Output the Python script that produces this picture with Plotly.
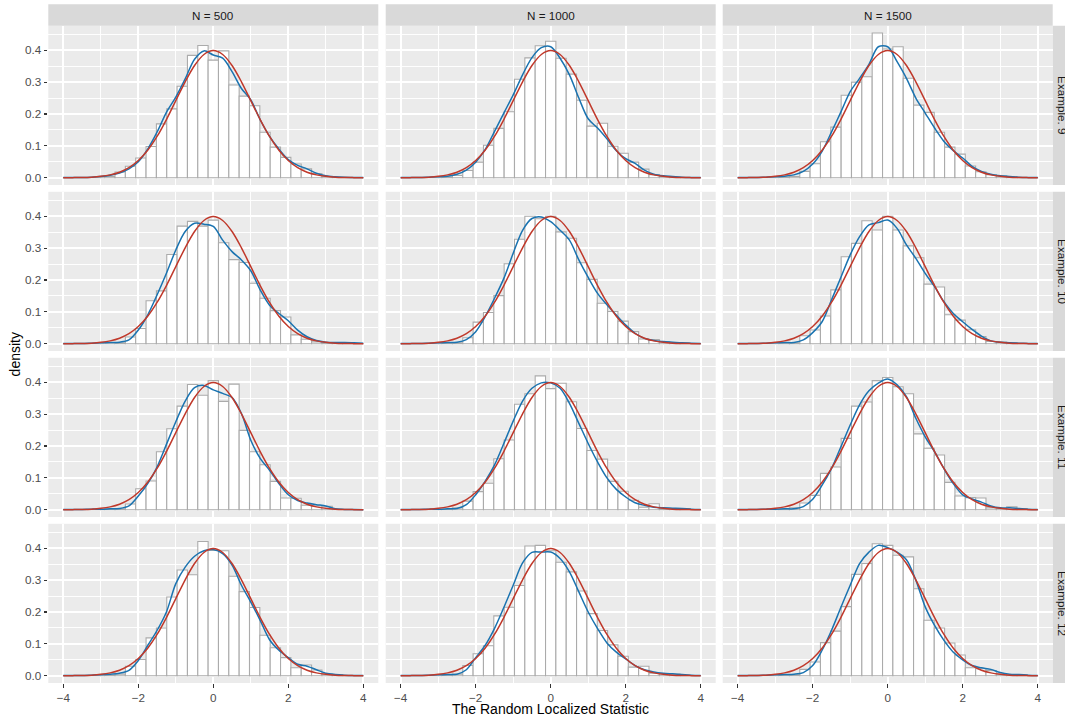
import plotly.graph_objects as go

# ---------------- data ----------------
sample_sizes = ["N = 500", "N = 1000", "N = 1500"]
examples = ["Example. 9", "Example. 10", "Example. 11", "Example. 12"]

bin_width = 8 / 29
bin_index = list(range(-14, 15))  # bins centred on k * bin_width

x_ticks = [-4, -2, 0, 2, 4]
x_tick_labels = ["\u22124", "\u22122", "0", "2", "4"]
y_ticks = [0.0, 0.1, 0.2, 0.3, 0.4]
y_tick_labels = ["0.0", "0.1", "0.2", "0.3", "0.4"]

# histogram densities (k = -14 .. 14)
h_ex9_n500 = [0, 0, 0, 0, 0.004, 0.018, 0.036, 0.062, 0.098, 0.169, 0.216, 0.287, 0.384, 0.415, 0.369, 0.398, 0.291, 0.256, 0.226, 0.143, 0.096, 0.064, 0.043, 0.028, 0.013, 0.004, 0, 0, 0]
h_ex9_n1000 = [0, 0, 0, 0, 0.002, 0.007, 0.023, 0.049, 0.102, 0.155, 0.207, 0.309, 0.376, 0.414, 0.428, 0.375, 0.325, 0.243, 0.162, 0.171, 0.099, 0.077, 0.049, 0.027, 0.010, 0.004, 0.001, 0, 0]
h_ex9_n1500 = [0, 0, 0, 0, 0.002, 0.004, 0.020, 0.044, 0.113, 0.159, 0.259, 0.300, 0.317, 0.454, 0.404, 0.411, 0.312, 0.228, 0.205, 0.143, 0.096, 0.074, 0.037, 0.019, 0.010, 0.006, 0.003, 0, 0]
h_ex10_n500 = [0, 0, 0, 0, 0, 0.003, 0.021, 0.048, 0.135, 0.166, 0.280, 0.369, 0.384, 0.369, 0.388, 0.317, 0.264, 0.255, 0.190, 0.143, 0.104, 0.084, 0.028, 0.014, 0.006, 0.003, 0.003, 0.003, 0]
h_ex10_n1000 = [0, 0, 0, 0, 0.001, 0.003, 0.019, 0.068, 0.098, 0.151, 0.251, 0.328, 0.400, 0.392, 0.400, 0.351, 0.331, 0.254, 0.202, 0.127, 0.101, 0.071, 0.038, 0.015, 0.013, 0.006, 0.002, 0.001, 0]
h_ex10_n1500 = [0, 0, 0, 0, 0.001, 0.003, 0.025, 0.043, 0.087, 0.169, 0.273, 0.315, 0.386, 0.357, 0.400, 0.357, 0.307, 0.270, 0.187, 0.178, 0.091, 0.074, 0.044, 0.023, 0.007, 0.005, 0.002, 0, 0]
h_ex11_n500 = [0, 0, 0, 0, 0.002, 0.002, 0.018, 0.066, 0.090, 0.182, 0.254, 0.325, 0.393, 0.359, 0.405, 0.340, 0.394, 0.249, 0.182, 0.141, 0.089, 0.037, 0.036, 0.014, 0.012, 0.011, 0, 0, 0]
h_ex11_n1000 = [0, 0, 0, 0, 0.001, 0.006, 0.027, 0.057, 0.083, 0.160, 0.219, 0.331, 0.364, 0.420, 0.380, 0.397, 0.339, 0.255, 0.186, 0.159, 0.089, 0.058, 0.030, 0.008, 0.019, 0.003, 0.004, 0.004, 0]
h_ex11_n1500 = [0, 0, 0, 0, 0.001, 0.006, 0.021, 0.045, 0.114, 0.134, 0.224, 0.325, 0.338, 0.405, 0.415, 0.386, 0.364, 0.238, 0.193, 0.172, 0.086, 0.043, 0.038, 0.037, 0.006, 0.004, 0.009, 0.003, 0]
h_ex12_n500 = [0, 0, 0, 0, 0.002, 0.005, 0.030, 0.051, 0.119, 0.150, 0.247, 0.332, 0.317, 0.421, 0.393, 0.392, 0.312, 0.264, 0.214, 0.127, 0.088, 0.057, 0.025, 0.034, 0.018, 0.005, 0.004, 0, 0]
h_ex12_n1000 = [0, 0, 0, 0, 0.002, 0.005, 0.032, 0.069, 0.094, 0.188, 0.215, 0.283, 0.407, 0.409, 0.392, 0.356, 0.326, 0.266, 0.195, 0.142, 0.097, 0.061, 0.027, 0.030, 0.008, 0.006, 0.005, 0, 0]
h_ex12_n1500 = [0, 0, 0, 0, 0.001, 0.003, 0.020, 0.043, 0.104, 0.140, 0.217, 0.318, 0.352, 0.414, 0.409, 0.378, 0.373, 0.273, 0.174, 0.150, 0.103, 0.065, 0.025, 0.022, 0.016, 0.005, 0.003, 0.003, 0]

# curve evaluation grid
curve_x = [-4.0, -3.75, -3.5, -3.25, -3.0, -2.75, -2.5, -2.25, -2.0, -1.75, -1.5, -1.25, -1.0, -0.75, -0.5, -0.25,
           0.0, 0.25, 0.5, 0.75, 1.0, 1.25, 1.5, 1.75, 2.0, 2.25, 2.5, 2.75, 3.0, 3.25, 3.5, 3.75, 4.0]

# standard normal density (red)
normal_density = [0.0001, 0.0004, 0.0009, 0.0020, 0.0044, 0.0091, 0.0175, 0.0317, 0.0540, 0.0863, 0.1295, 0.1826, 0.2420, 0.3011, 0.3521, 0.3867,
                  0.3989, 0.3867, 0.3521, 0.3011, 0.2420, 0.1826, 0.1295, 0.0863, 0.0540, 0.0317, 0.0175, 0.0091, 0.0044, 0.0020, 0.0009, 0.0004, 0.0001]

# kernel density estimates (blue)
kde_ex9_n500 = [0.0005, 0.001, 0.001, 0.002, 0.004, 0.008, 0.015, 0.028, 0.050, 0.090, 0.143, 0.205, 0.253, 0.310, 0.372, 0.398,
                0.385, 0.375, 0.333, 0.280, 0.244, 0.182, 0.130, 0.090, 0.057, 0.039, 0.028, 0.014, 0.006, 0.003, 0.0015, 0.001, 0.0005]
kde_ex9_n1000 = [0.0005, 0.001, 0.001, 0.002, 0.003, 0.005, 0.011, 0.024, 0.049, 0.088, 0.145, 0.203, 0.260, 0.323, 0.377, 0.408,
                 0.411, 0.375, 0.323, 0.250, 0.185, 0.156, 0.122, 0.085, 0.060, 0.045, 0.024, 0.011, 0.006, 0.004, 0.002, 0.001, 0.0005]
kde_ex9_n1500 = [0.0005, 0.001, 0.001, 0.002, 0.003, 0.005, 0.009, 0.020, 0.043, 0.083, 0.143, 0.206, 0.270, 0.312, 0.356, 0.411,
                 0.411, 0.364, 0.312, 0.250, 0.203, 0.156, 0.114, 0.085, 0.062, 0.036, 0.020, 0.011, 0.006, 0.004, 0.002, 0.001, 0.0005]
kde_ex10_n500 = [0.001, 0.001, 0.001, 0.002, 0.003, 0.004, 0.005, 0.012, 0.043, 0.090, 0.153, 0.221, 0.294, 0.352, 0.378, 0.375,
                 0.368, 0.325, 0.289, 0.263, 0.229, 0.169, 0.121, 0.095, 0.072, 0.043, 0.022, 0.010, 0.005, 0.004, 0.004, 0.003, 0.002]
kde_ex10_n1000 = [0.0005, 0.001, 0.001, 0.002, 0.003, 0.004, 0.005, 0.013, 0.038, 0.085, 0.142, 0.205, 0.284, 0.356, 0.393, 0.398,
                  0.383, 0.356, 0.325, 0.263, 0.208, 0.158, 0.122, 0.090, 0.059, 0.033, 0.017, 0.010, 0.007, 0.005, 0.003, 0.002, 0.001]
kde_ex10_n1500 = [0.0005, 0.001, 0.001, 0.002, 0.003, 0.004, 0.004, 0.012, 0.035, 0.069, 0.137, 0.208, 0.279, 0.336, 0.373, 0.380,
                  0.388, 0.362, 0.310, 0.268, 0.221, 0.179, 0.132, 0.095, 0.069, 0.045, 0.024, 0.009, 0.005, 0.003, 0.002, 0.001, 0.0005]
kde_ex11_n500 = [0.0005, 0.001, 0.001, 0.002, 0.002, 0.003, 0.004, 0.012, 0.043, 0.082, 0.134, 0.205, 0.276, 0.341, 0.383, 0.390,
                 0.376, 0.365, 0.352, 0.302, 0.218, 0.161, 0.124, 0.082, 0.047, 0.029, 0.021, 0.016, 0.012, 0.003, 0.001, 0.0005, 0.0002]
kde_ex11_n1000 = [0.0005, 0.001, 0.001, 0.002, 0.002, 0.003, 0.004, 0.016, 0.047, 0.089, 0.140, 0.208, 0.278, 0.341, 0.381, 0.398,
                  0.398, 0.381, 0.334, 0.271, 0.208, 0.150, 0.100, 0.064, 0.040, 0.022, 0.014, 0.008, 0.006, 0.005, 0.004, 0.002, 0.001]
kde_ex11_n1500 = [0.0005, 0.001, 0.001, 0.002, 0.002, 0.003, 0.003, 0.010, 0.033, 0.077, 0.129, 0.197, 0.266, 0.329, 0.373, 0.397,
                  0.410, 0.392, 0.355, 0.287, 0.229, 0.182, 0.129, 0.082, 0.047, 0.034, 0.024, 0.012, 0.006, 0.006, 0.004, 0.002, 0.001]
kde_ex12_n500 = [0.0005, 0.001, 0.001, 0.002, 0.003, 0.005, 0.008, 0.017, 0.048, 0.095, 0.142, 0.200, 0.289, 0.341, 0.375, 0.392,
                 0.396, 0.383, 0.347, 0.284, 0.231, 0.174, 0.113, 0.080, 0.057, 0.036, 0.030, 0.019, 0.008, 0.004, 0.002, 0.001, 0.0005]
kde_ex12_n1000 = [0.0005, 0.001, 0.001, 0.002, 0.003, 0.004, 0.005, 0.019, 0.057, 0.095, 0.148, 0.214, 0.284, 0.354, 0.387, 0.388,
                  0.388, 0.368, 0.326, 0.263, 0.200, 0.148, 0.103, 0.074, 0.053, 0.032, 0.019, 0.012, 0.008, 0.006, 0.004, 0.002, 0.001]
kde_ex12_n1500 = [0.0005, 0.001, 0.001, 0.002, 0.003, 0.004, 0.005, 0.010, 0.032, 0.080, 0.142, 0.214, 0.284, 0.352, 0.388, 0.409,
                  0.402, 0.388, 0.364, 0.300, 0.216, 0.158, 0.111, 0.074, 0.050, 0.032, 0.025, 0.020, 0.010, 0.005, 0.004, 0.002, 0.001]

hist_grid = [[h_ex9_n500, h_ex9_n1000, h_ex9_n1500],
             [h_ex10_n500, h_ex10_n1000, h_ex10_n1500],
             [h_ex11_n500, h_ex11_n1000, h_ex11_n1500],
             [h_ex12_n500, h_ex12_n1000, h_ex12_n1500]]
kde_grid = [[kde_ex9_n500, kde_ex9_n1000, kde_ex9_n1500],
            [kde_ex10_n500, kde_ex10_n1000, kde_ex10_n1500],
            [kde_ex11_n500, kde_ex11_n1000, kde_ex11_n1500],
            [kde_ex12_n500, kde_ex12_n1000, kde_ex12_n1500]]

# ---------------- layout geometry (pixels) ----------------
W, H = 1065, 717
col_left = [48.3, 385.7, 722.7]
col_width = 330.0
row_top = [25.8, 191.8, 357.8, 523.8]
row_height = 159.2
strip_h = 21.5
x_range = [-4.4, 4.4]
y_range = [-0.0227, 0.4767]

FONT = "Liberation Sans, Arial, Helvetica, sans-serif"
bar_centres = [k * bin_width for k in bin_index]

fig = go.Figure()
layout = dict(
    width=W, height=H, margin=dict(l=0, r=0, t=0, b=0),
    paper_bgcolor="white", plot_bgcolor="#EBEBEB",
    showlegend=False, barmode="overlay", bargap=0,
    font=dict(family=FONT, color="#4D4D4D"),
)
shapes = []
annotations = []

def px_x(p):
    return p / W

def px_y(p):
    return 1 - p / H

for r in range(4):
    for c in range(3):
        n = r * 3 + c + 1
        xa = "x" if n == 1 else f"x{n}"
        ya = "y" if n == 1 else f"y{n}"
        fig.add_trace(go.Bar(
            x=bar_centres, y=hist_grid[r][c], width=bin_width,
            marker=dict(color="white", line=dict(color="#ABABAB", width=1.1)),
            xaxis=xa, yaxis=ya, hoverinfo="skip"))
        fig.add_trace(go.Scatter(
            x=curve_x, y=kde_grid[r][c], mode="lines",
            line=dict(color="#1A73B0", width=1.5, shape="spline", smoothing=0.9),
            xaxis=xa, yaxis=ya, hoverinfo="skip"))
        fig.add_trace(go.Scatter(
            x=curve_x, y=normal_density, mode="lines",
            line=dict(color="#C0392B", width=1.5, shape="spline", smoothing=0.9),
            xaxis=xa, yaxis=ya, hoverinfo="skip"))

        x0, x1 = col_left[c], col_left[c] + col_width
        y0, y1 = row_top[r], row_top[r] + row_height
        layout[f"xaxis{n}"] = dict(
            domain=[px_x(x0), px_x(x1)], range=x_range, anchor=ya,
            tickvals=x_ticks, ticktext=x_tick_labels,
            showticklabels=(r == 3), ticks="outside" if r == 3 else "",
            ticklen=3.7, tickwidth=1.07, tickcolor="#333333",
            tickfont=dict(size=11.7, color="#4D4D4D", family=FONT),
            showgrid=True, gridcolor="white", gridwidth=1.9,
            minor=dict(tickvals=[-3, -1, 1, 3], showgrid=True, gridcolor="white", gridwidth=0.95, ticks=""),
            zeroline=False, showline=False, fixedrange=True)
        layout[f"yaxis{n}"] = dict(
            domain=[px_y(y1), px_y(y0)], range=y_range, anchor=xa,
            tickvals=y_ticks, ticktext=y_tick_labels,
            showticklabels=(c == 0), ticks="outside" if c == 0 else "",
            ticklen=3.7, tickwidth=1.07, tickcolor="#333333",
            tickfont=dict(size=11.7, color="#4D4D4D", family=FONT),
            showgrid=True, gridcolor="white", gridwidth=1.9,
            minor=dict(tickvals=[0.05, 0.15, 0.25, 0.35, 0.45], showgrid=True, gridcolor="white", gridwidth=0.95, ticks=""),
            zeroline=False, showline=False, fixedrange=True)

# top strips
for c, lab in enumerate(sample_sizes):
    x0, x1 = col_left[c], col_left[c] + col_width
    shapes.append(dict(type="rect", xref="paper", yref="paper",
                       x0=px_x(x0), x1=px_x(x1), y0=px_y(row_top[0]), y1=px_y(row_top[0] - strip_h),
                       fillcolor="#D9D9D9", line=dict(width=0), layer="below"))
    annotations.append(dict(text=lab, xref="paper", yref="paper",
                            x=px_x((x0 + x1) / 2), y=px_y(row_top[0] - strip_h / 2),
                            showarrow=False, xanchor="center", yanchor="middle",
                            font=dict(size=11.7, color="#1A1A1A", family=FONT)))

# right strips
strip_x0 = col_left[2] + col_width
for r, lab in enumerate(examples):
    y0, y1 = row_top[r], row_top[r] + row_height
    shapes.append(dict(type="rect", xref="paper", yref="paper",
                       x0=px_x(strip_x0), x1=px_x(strip_x0 + 23.3), y0=px_y(y1), y1=px_y(y0),
                       fillcolor="#D9D9D9", line=dict(width=0), layer="below"))
    annotations.append(dict(text=lab, xref="paper", yref="paper",
                            x=px_x(strip_x0 + 9.6), y=px_y((y0 + y1) / 2),
                            showarrow=False, xanchor="center", yanchor="middle", textangle=90,
                            font=dict(size=11.7, color="#1A1A1A", family=FONT)))

# axis titles
annotations.append(dict(text="The Random Localized Statistic", xref="paper", yref="paper",
                        x=px_x(col_left[0] + (col_left[2] + col_width - col_left[0]) / 2), y=px_y(708.5),
                        showarrow=False, xanchor="center", yanchor="middle",
                        font=dict(size=14.0, color="black", family=FONT)))
annotations.append(dict(text="density", xref="paper", yref="paper",
                        x=px_x(15), y=px_y((row_top[0] + row_top[3] + row_height) / 2),
                        showarrow=False, xanchor="center", yanchor="middle", textangle=-90,
                        font=dict(size=14.0, color="black", family=FONT)))

layout["shapes"] = shapes
layout["annotations"] = annotations
fig.update_layout(**layout)
fig.write_html("out.html", config={"displayModeBar": False, "staticPlot": True},
               post_script="document.body.style.margin='0';document.body.style.overflow='hidden';")
